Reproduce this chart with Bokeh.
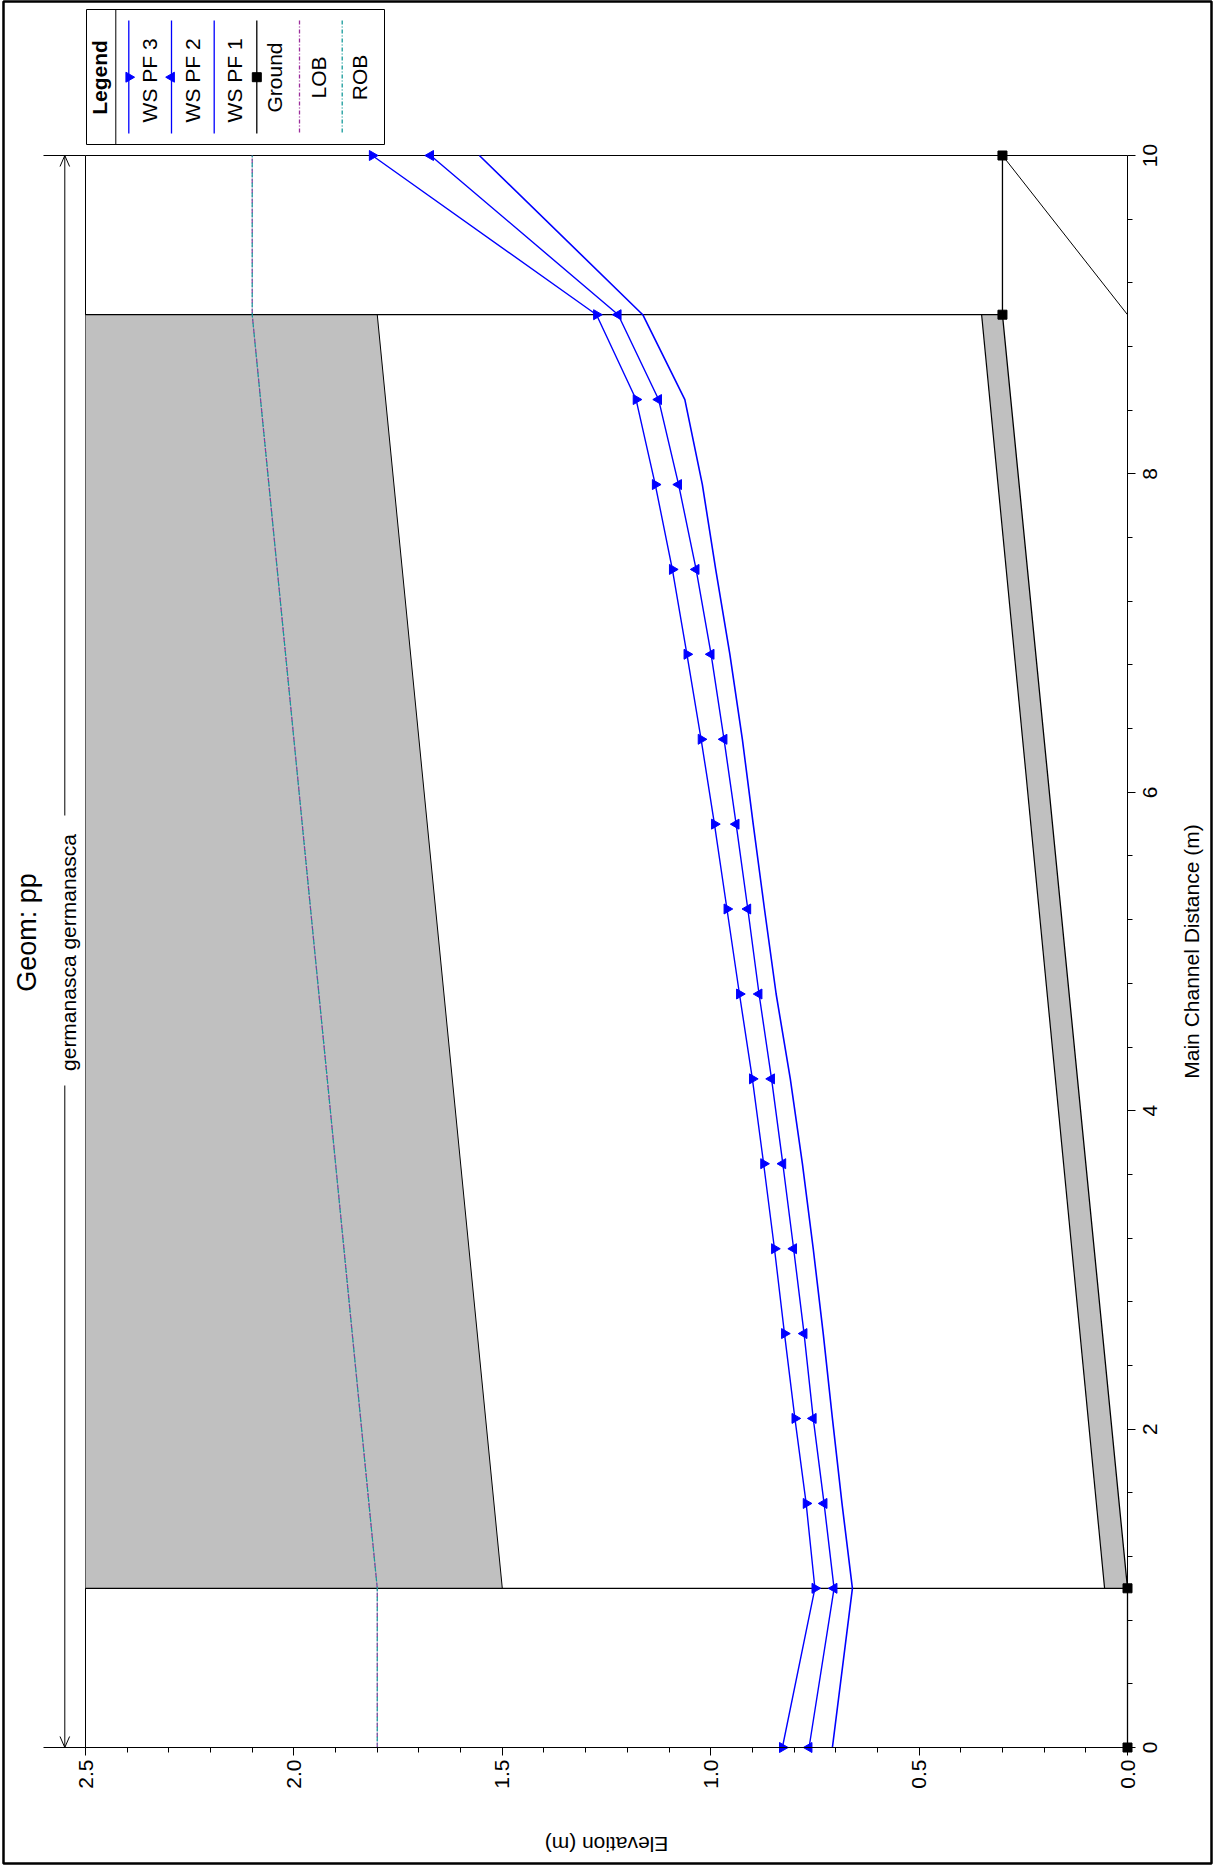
import math
from bokeh.plotting import figure
from bokeh.models import Range1d, FixedTicker, PrintfTickFormatter, LinearAxis
from bokeh.core.properties import value
from bokeh.embed import file_html
from bokeh.resources import INLINE

# ---------------- data ----------------
distance = [0.0, 1.0, 1.533, 2.067, 2.6, 3.133, 3.667, 4.2, 4.733, 5.267,
            5.8, 6.333, 6.867, 7.4, 7.933, 8.467, 9.0, 10.0]
ws_pf3 = [0.828, 0.750, 0.771, 0.798, 0.823, 0.847, 0.873, 0.900, 0.931, 0.961,
          0.991, 1.023, 1.057, 1.092, 1.133, 1.179, 1.274, 1.812]
ws_pf2 = [0.764, 0.704, 0.728, 0.754, 0.776, 0.801, 0.827, 0.854, 0.884, 0.911,
          0.939, 0.968, 0.999, 1.035, 1.077, 1.125, 1.222, 1.672]
ws_pf1 = [0.708, 0.660, 0.685, 0.708, 0.730, 0.754, 0.780, 0.809, 0.843, 0.871,
          0.898, 0.924, 0.954, 0.988, 1.020, 1.062, 1.163, 1.555]

ground_dist = [0.0, 1.0, 9.0, 10.0]
ground_elev = [0.0, 0.0, 0.30, 0.30]
slope_dist = [10.0, 9.0]
slope_elev = [0.30, 0.0]

bank_dist = [0.0, 1.0, 9.0, 10.0]
lob_elev = [1.80, 1.80, 2.10, 2.10]
rob_elev = [1.80, 1.80, 2.10, 2.10]

culvert_dist = [1.0, 9.0]
soffit_elev = [1.50, 1.80]
invert_elev = [0.055, 0.35]

elev_ticks = [0.0, 0.5, 1.0, 1.5, 2.0, 2.5]
elev_minor = [0.1, 0.2, 0.3, 0.4, 0.6, 0.7, 0.8, 0.9, 1.1, 1.2, 1.3, 1.4,
              1.6, 1.7, 1.8, 1.9, 2.1, 2.2, 2.3, 2.4]
dist_ticks = [0, 2, 4, 6, 8, 10]
dist_tick_labels = ["0", "2", "4", "6", "8", "10"]
dist_minor = [0.4, 0.8, 1.2, 1.6, 2.4, 2.8, 3.2, 3.6, 4.4, 4.8, 5.2, 5.6,
              6.4, 6.8, 7.2, 7.6, 8.4, 8.8, 9.2, 9.6]

title_text = "Geom: pp"
reach_text = "germanasca germanasca"
dist_label = "Main Channel Distance (m)"
elev_label = "Elevation (m)"
legend_title = "Legend"
legend_labels = ["WS  PF 3", "WS  PF 2", "WS  PF 1", "Ground", "LOB", "ROB"]

# ---------------- styles / layout ----------------
FONT = "Liberation Sans"
BLUE = "#0000ff"
GRAY = "#c0c0c0"
LOB_COLOR = "#9b2d9b"
ROB_COLOR = "#159a9a"

W, H = 1214, 1865
FRAME_L, FRAME_R, FRAME_T, FRAME_B = 3, 1211, 1, 1863    # outer border (canvas px)
AX_L, AX_R, AX_T, AX_B = 85, 1127, 155, 1747             # plotting area (canvas px)
E_HI, E_LO = 2.5, 0.0      # elevation at left / right edge of plotting area
D_HI, D_LO = 10.0, 0.0     # distance at top / bottom edge of plotting area
ppx = (AX_R - AX_L) / (E_HI - E_LO)
ppy = (AX_B - AX_T) / (D_HI - D_LO)


def ex(px):
    """canvas x pixel -> elevation units"""
    return E_HI - (px - AX_L) / ppx


def ey(py):
    """canvas y pixel -> distance units"""
    return D_HI - (py - AX_T) / ppy


p = figure(width=W, height=H,
           x_range=Range1d(ex(FRAME_L), ex(FRAME_R)),
           y_range=Range1d(ey(FRAME_B), ey(FRAME_T)),
           x_axis_location=None, y_axis_location=None,
           output_backend="svg", toolbar_location=None, title=None,
           min_border_left=FRAME_L, min_border_right=W - FRAME_R,
           min_border_top=FRAME_T, min_border_bottom=H - FRAME_B,
           background_fill_color="white", border_fill_color="white")
for g in p.grid:
    g.visible = False
p.outline_line_color = "black"
p.outline_line_width = 2.5

# ---------------- axes (fixed at the plotting-area edges) ----------------
xa = LinearAxis(fixed_location=D_LO, bounds=(E_LO, E_HI),
                ticker=FixedTicker(ticks=elev_ticks, minor_ticks=elev_minor),
                formatter=PrintfTickFormatter(format="%.1f"),
                major_label_orientation=math.pi / 2,
                major_tick_out=8, major_tick_in=0, minor_tick_out=5, minor_tick_in=0,
                major_label_standoff=4,
                major_label_text_font=FONT, major_label_text_font_size="21px",
                major_label_text_color="black",
                axis_line_color="black", major_tick_line_color="black",
                minor_tick_line_color="black")
p.add_layout(xa, "below")

ya = LinearAxis(fixed_location=E_LO, bounds=(D_LO, D_HI),
                ticker=FixedTicker(ticks=dist_ticks, minor_ticks=dist_minor),
                major_label_overrides={t: "" for t in dist_ticks},
                major_tick_out=8, major_tick_in=0, minor_tick_out=5, minor_tick_in=0,
                axis_line_color="black", major_tick_line_color="black",
                minor_tick_line_color="black")
p.add_layout(ya, "right")

# plotting-area top and left edges
p.line([E_HI, E_LO], [D_HI, D_HI], line_color="black", line_width=1)
p.line([E_HI, E_HI], [D_LO, D_HI], line_color="black", line_width=1)

# ---------------- culvert structure ----------------
c0, c1 = culvert_dist
p.patch([E_HI, soffit_elev[0], soffit_elev[1], E_HI], [c0, c0, c1, c1],
        fill_color=GRAY, line_color=None)
p.patch([ground_elev[1], invert_elev[0], invert_elev[1], ground_elev[2]], [c0, c0, c1, c1],
        fill_color=GRAY, line_color=None)
p.line(soffit_elev, culvert_dist, line_color="black", line_width=1)
p.line(invert_elev, culvert_dist, line_color="black", line_width=1.2)
p.segment(x0=[E_HI, E_HI], y0=culvert_dist,
          x1=[ground_elev[1], ground_elev[2]], y1=culvert_dist,
          line_color="black", line_width=1.2)

# ---------------- bank stations ----------------
p.line(lob_elev, bank_dist, line_color=LOB_COLOR, line_width=1.2, line_dash="5 2 1 2")
p.line(rob_elev, bank_dist, line_color=ROB_COLOR, line_width=1.2, line_dash="5 2 1 2",
       line_dash_offset=4)

# ---------------- water surfaces ----------------
p.line(ws_pf1, distance, line_color=BLUE, line_width=1.6)
p.line(ws_pf2, distance, line_color=BLUE, line_width=1.4)
p.scatter(ws_pf2, distance, marker="triangle", angle=math.pi / 2, size=10,
          fill_color=BLUE, line_color=BLUE)
p.line(ws_pf3, distance, line_color=BLUE, line_width=1.4)
p.scatter(ws_pf3, distance, marker="triangle", angle=-math.pi / 2, size=10,
          fill_color=BLUE, line_color=BLUE)

# ---------------- ground ----------------
p.line(ground_elev, ground_dist, line_color="black", line_width=1.3)
p.line(slope_elev, slope_dist, line_color="black", line_width=1)
p.scatter(ground_elev, ground_dist, marker="square", size=9,
          fill_color="black", line_color="black")


# ---------------- texts ----------------
def txt(texts, pxs, pys, angle=math.pi / 2, size="21px", style="normal"):
    p.text(x=[ex(a) for a in pxs], y=[ey(b) for b in pys], text=texts, angle=angle,
           text_align="center", text_baseline="middle",
           text_font=value(FONT), text_font_size=size, text_font_style=style,
           text_color="black")


def seg(pts_list, color="black", width=1.0, dash="solid"):
    p.segment(x0=[ex(a[0]) for a, b in pts_list], y0=[ey(a[1]) for a, b in pts_list],
              x1=[ex(b[0]) for a, b in pts_list], y1=[ey(b[1]) for a, b in pts_list],
              line_color=color, line_width=width, line_dash=dash)


txt([title_text], [26], [932], size="27px")
txt([reach_text], [67.5], [952])

# dimension arrow for the reach
seg([((43, AX_T), (AX_L, AX_T)), ((43, AX_B), (AX_L, AX_B)),
     ((64.3, AX_T), (64.3, 815)), ((64.3, 1085), (64.3, AX_B)),
     ((59.5, AX_T + 11), (64.3, AX_T)), ((69.1, AX_T + 11), (64.3, AX_T)),
     ((59.5, AX_B - 11), (64.3, AX_B)), ((69.1, AX_B - 11), (64.3, AX_B))])

# axis titles and distance tick labels
txt([elev_label], [(AX_L + AX_R) / 2], [1844], angle=math.pi)
txt([dist_label], [1191], [(AX_T + AX_B) / 2])
p.text(x=[ex(1149)] * len(dist_ticks), y=dist_ticks, text=dist_tick_labels,
       angle=math.pi / 2, text_align="center", text_baseline="middle",
       text_font=value(FONT), text_font_size="21px", text_color="black")

# legend
LX0, LX1, LY0, LY1 = 86, 384, 9, 144
seg([((LX0, LY0), (LX1, LY0)), ((LX1, LY0), (LX1, LY1)), ((LX1, LY1), (LX0, LY1)),
     ((LX0, LY1), (LX0, LY0)), ((115.3, LY0), (115.3, LY1))])
txt([legend_title], [99.3], [77], style="bold")
entry_x = [128.3, 171.0, 213.7, 256.3, 299.0, 341.7]
entry_color = [BLUE, BLUE, BLUE, "black", LOB_COLOR, ROB_COLOR]
entry_dash = ["solid", "solid", "solid", "solid", "4 2 1 2", "4 2 1 2"]
label_dx = [21.0, 21.0, 20.6, 18.0, 18.6, 17.6]
for x, c, d in zip(entry_x, entry_color, entry_dash):
    seg([((x, 20), (x, 133))], color=c, width=1.3, dash=d)
txt(legend_labels, [x + dx for x, dx in zip(entry_x, label_dx)], [77] * len(legend_labels))
p.scatter([ex(entry_x[0])], [ey(76.7)], marker="triangle", angle=-math.pi / 2, size=10,
          fill_color=BLUE, line_color=BLUE)
p.scatter([ex(entry_x[1])], [ey(76.7)], marker="triangle", angle=math.pi / 2, size=10,
          fill_color=BLUE, line_color=BLUE)
p.scatter([ex(entry_x[3])], [ey(76.7)], marker="square", size=9,
          fill_color="black", line_color="black")

open("out.html", "w").write(file_html(p, INLINE))
